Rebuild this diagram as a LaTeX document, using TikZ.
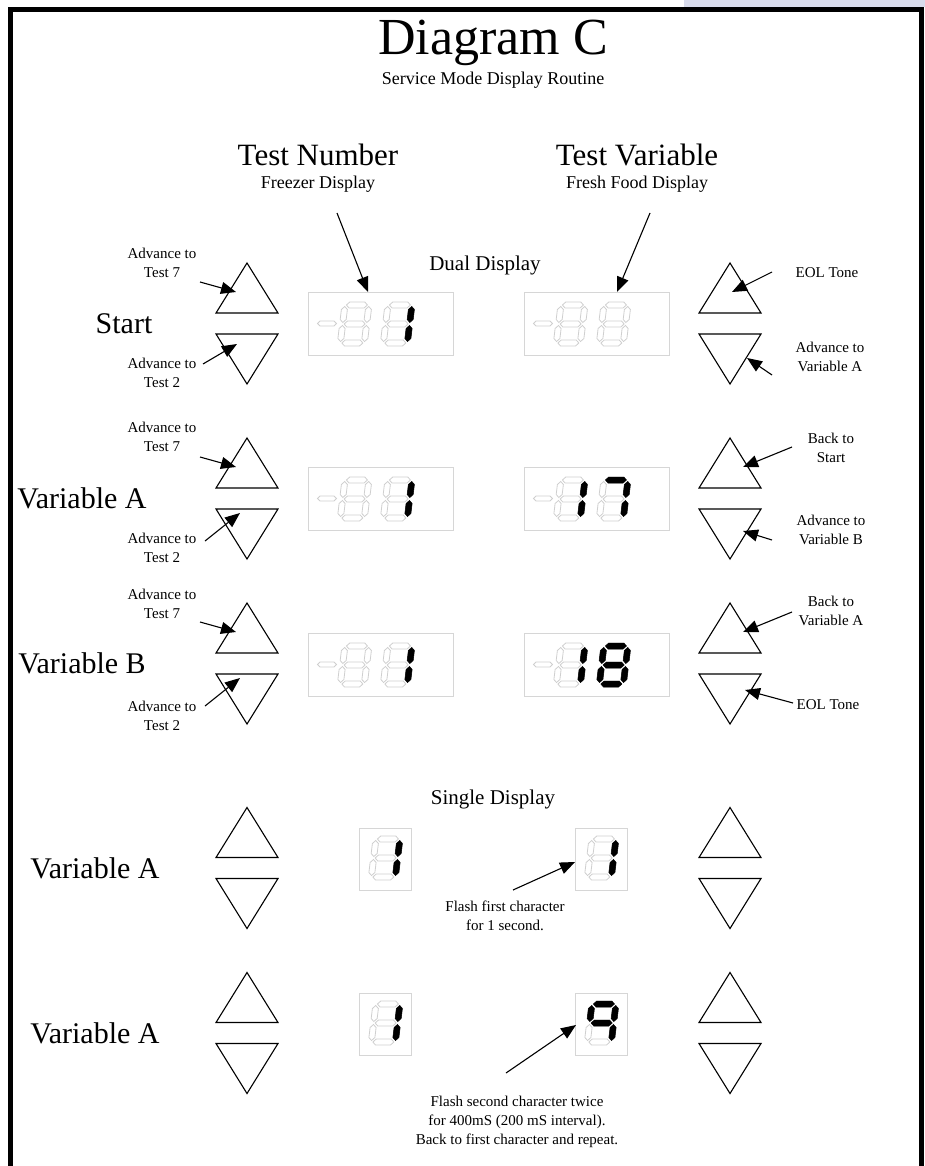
\documentclass[tikz,border=0pt]{standalone}
\usepackage{fontspec}
\setmainfont{Liberation Serif}
\usetikzlibrary{arrows.meta,positioning,calc}
\definecolor{segGray}{HTML}{CFCFCF}
\definecolor{boxGray}{HTML}{D6D6D6}
\definecolor{tabBlue}{HTML}{D9DCEC}
\tikzset{
  keybtn/.style={draw=black, line width=1.1pt, line join=miter},
  lcdbox/.style={draw=boxGray, line width=1pt, inner sep=0pt},
  segoff/.style={draw=segGray, line width=0.8pt, fill=white},
  segon/.style={draw=black, fill=black, line width=0.5pt},
  pointer/.style={-{Triangle[length=15pt,width=12pt]}, line width=1.1pt},
  titletxt/.style={font=\fontsize{52}{56}\selectfont},
  subtxt/.style={font=\fontsize{18}{21}\selectfont},
  headtxt/.style={font=\fontsize{31}{34}\selectfont},
  rowtxt/.style={font=\fontsize{30}{34}\selectfont},
  sectxt/.style={font=\fontsize{21}{24}\selectfont},
  note/.style={font=\fontsize{15}{19}\selectfont, align=center, inner sep=0pt}
}
% seven segment pieces (local units, y up)
\newcommand\hseg[2]{\path[#1] (4.5,#2) -- (7.5,#2+3) -- (22.5,#2+3) -- (25.5,#2) -- (22.5,#2-3) -- (7.5,#2-3) -- cycle;}
\newcommand\vseg[4]{\path[#1] (#2,#3) -- (#2+3,#3+3) -- (#2+3,#4-3) -- (#2,#4) -- (#2-3,#4-3) -- (#2-3,#3+3) -- cycle;}
\newcommand\lcdsega[1]{\hseg{#1}{41}}
\newcommand\lcdsegb[1]{\vseg{#1}{27}{23.5}{39.5}}
\newcommand\lcdsegc[1]{\vseg{#1}{27}{4.5}{20.5}}
\newcommand\lcdsegd[1]{\hseg{#1}{3}}
\newcommand\lcdsege[1]{\vseg{#1}{3}{4.5}{20.5}}
\newcommand\lcdsegf[1]{\vseg{#1}{3}{23.5}{39.5}}
\newcommand\lcdsegg[1]{\hseg{#1}{22}}
\newcommand\lcdsegnone[1]{}
\newcommand\lcddigit[3]{%
  \begin{scope}[shift={(#1,#2)}, x=1pt, y=1pt, xslant=0.12]
    \foreach \s in {a,b,c,d,e,f,g}{\csname lcdseg\s\endcsname{segoff}}
    \foreach \s in {#3}{\csname lcdseg\s\endcsname{segon}}
  \end{scope}}
% two digit display with minus sign
\newcommand\dualdisp[5]{%
  \node[lcdbox, minimum width=145pt, minimum height=63pt] (#1) at (#2,#3) {};
  \begin{scope}[shift={(#2,#3)}]
    \path[segoff] (-63,0) -- (-60.5,-2.5) -- (-46.5,-2.5) -- (-44,0) -- (-46.5,2.5) -- (-60.5,2.5) -- cycle;
  \end{scope}
  \lcddigit{#2-43.5}{#3+22.5}{#4}
  \lcddigit{#2-0.5}{#3+22.5}{#5}}
\newcommand\monodisp[4]{%
  \node[lcdbox, minimum width=52pt, minimum height=62pt] (#1) at (#2,#3) {};
  \lcddigit{#2-17}{#3+21}{#4}}
% up / down key pair
\newcommand\keypair[3]{%
  \coordinate (#1) at (#2,#3);
  \draw[keybtn] ($(#1)+(0,-60.5)$) -- ($(#1)+(31,-10.5)$) -- ($(#1)+(-31,-10.5)$) -- cycle;
  \draw[keybtn] ($(#1)+(-31,10.5)$) -- ($(#1)+(31,10.5)$) -- ($(#1)+(0,60.5)$) -- cycle;}

\begin{document}
\begin{tikzpicture}[x=1pt, y=-1pt]
\useasboundingbox (0,0) rectangle (925,1166);
\fill[tabBlue] (684,0) rectangle (925,7);
\draw[line width=5pt, line join=miter] (10.5,1170) -- (10.5,9.5) -- (921.5,9.5) -- (921.5,1170);

\node[titletxt] (title) at (493,43) {Diagram C};
\node[subtxt] (subtitle) at (493,80) {Service Mode Display Routine};

\node[headtxt] (tnum) at (318,155) {Test Number};
\node[subtxt] (tnumsub) at (318,184) {Freezer Display};
\node[headtxt] (tvar) at (637,155) {Test Variable};
\node[subtxt] (tvarsub) at (637,184) {Fresh Food Display};

\node[sectxt] (dual) at (485,265) {Dual Display};
\node[sectxt] (single) at (493,799) {Single Display};

% dual display rows
\dualdisp{fz1}{380.5}{323.5}{none}{b,c}
\dualdisp{ff1}{596.5}{323.5}{none}{none}
\dualdisp{fz2}{380.5}{498.5}{none}{b,c}
\dualdisp{ff2}{596.5}{498.5}{b,c}{a,b,c}
\dualdisp{fz3}{380.5}{664.5}{none}{b,c}
\dualdisp{ff3}{596.5}{664.5}{b,c}{a,b,c,d,e,f,g}

% single display rows
\monodisp{sa1}{385}{859}{b,c}
\monodisp{sb1}{601}{859}{b,c}
\monodisp{sa2}{385}{1024}{b,c}
\monodisp{sb2}{601}{1024}{a,b,c,f,g}

% keys
\keypair{kl1}{247}{323.5}
\keypair{kr1}{730}{323.5}
\keypair{kl2}{247}{498.5}
\keypair{kr2}{730}{498.5}
\keypair{kl3}{247}{663.5}
\keypair{kr3}{730}{663.5}
\keypair{kl4}{247}{868}
\keypair{kr4}{730}{868}
\keypair{kl5}{247}{1033}
\keypair{kr5}{730}{1033}

% row names
\node[rowtxt] (start) at (124,323.5) {Start};
\node[rowtxt] (vara) at (82,498.5) {Variable A};
\node[rowtxt] (varb) at (82,663.5) {Variable B};
\node[rowtxt] (vara4) at (95,868) {Variable A};
\node[rowtxt] (vara5) at (95,1033) {Variable A};

% key notes
\node[note] (l1u) at (162,262.5) {Advance to\\Test 7};
\node[note] (l1d) at (162,372.5) {Advance to\\Test 2};
\node[note] (l2u) at (162,437) {Advance to\\Test 7};
\node[note] (l2d) at (162,548) {Advance to\\Test 2};
\node[note] (l3u) at (162,604) {Advance to\\Test 7};
\node[note] (l3d) at (162,716) {Advance to\\Test 2};
\node[note] (r1u) at (827,273) {EOL Tone};
\node[note] (r1d) at (830,356.5) {Advance to\\Variable A};
\node[note] (r2u) at (831,447.5) {Back to\\Start};
\node[note] (r2d) at (831,529.5) {Advance to\\Variable B};
\node[note] (r3u) at (831,611) {Back to\\Variable A};
\node[note] (r3d) at (828,705) {EOL Tone};
\node[note] (flash1) at (505,916) {Flash first character\\for 1 second.};
\node[note] (flash2) at (517,1121.5) {Flash second character twice\\for 400mS (200 mS interval).\\Back to first character and repeat.};

% arrow ends
\coordinate (tnumA) at (337,213);  \coordinate (tnumB) at (368,292);
\coordinate (tvarA) at (650,213);  \coordinate (tvarB) at (617,292);
\coordinate (l1uA) at (200,282);   \coordinate (l1uB) at (236,292);
\coordinate (l1dA) at (203,364);   \coordinate (l1dB) at (237,344);
\coordinate (l2uA) at (200,457);   \coordinate (l2uB) at (236,467);
\coordinate (l2dA) at (205,541);   \coordinate (l2dB) at (240,513);
\coordinate (l3uA) at (200,622);   \coordinate (l3uB) at (236,632);
\coordinate (l3dA) at (205,706);   \coordinate (l3dB) at (240,678);
\coordinate (r1uA) at (772,272);   \coordinate (r1uB) at (732,292);
\coordinate (r1dA) at (772,375);   \coordinate (r1dB) at (747,358);
\coordinate (r2uA) at (792,447);   \coordinate (r2uB) at (743,467);
\coordinate (r2dA) at (772,540);   \coordinate (r2dB) at (743,531);
\coordinate (r3uA) at (792,612);   \coordinate (r3uB) at (743,632);
\coordinate (r3dA) at (793,703);   \coordinate (r3dB) at (745,690);
\coordinate (fl1A) at (513,890);   \coordinate (fl1B) at (575,862);
\coordinate (fl2A) at (506,1073);  \coordinate (fl2B) at (576,1025);

\foreach \a in {tnum,tvar,l1u,l1d,l2u,l2d,l3u,l3d,r1u,r1d,r2u,r2d,r3u,r3d,fl1,fl2}
  \draw[pointer] (\a A) -- (\a B);
\end{tikzpicture}
\end{document}
